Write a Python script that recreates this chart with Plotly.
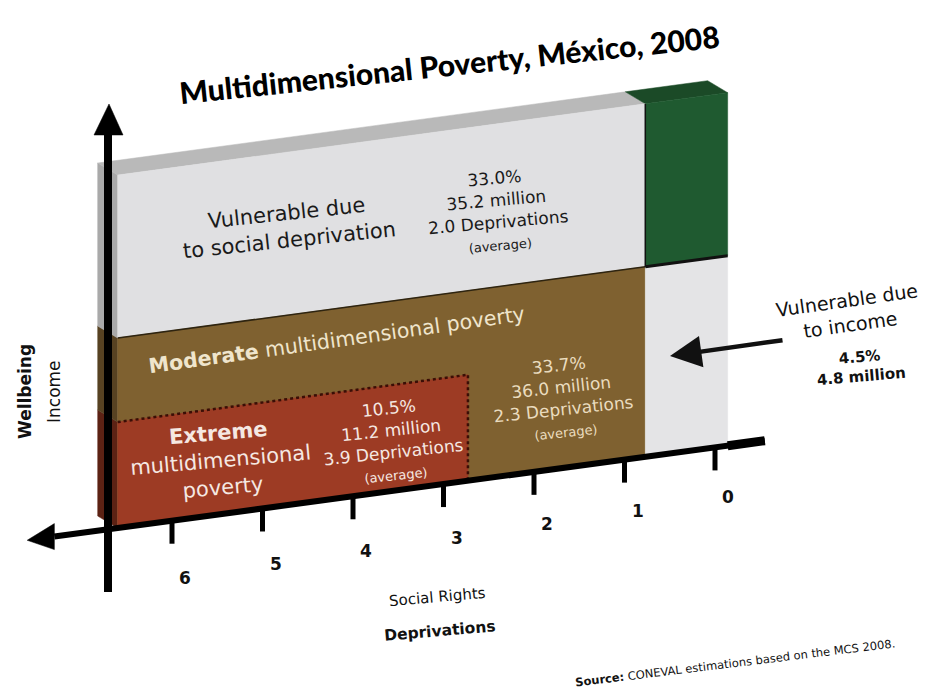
import plotly.graph_objects as go

# ---------------- data ----------------
deprivation_ticks = [6, 5, 4, 3, 2, 1, 0]
tick_labels = ["6", "5", "4", "3", "2", "1", "0"]

# column limits on the deprivation axis
dep_left = 6.6          # left edge of the blocks
dep_extreme_edge = 2.73 # right edge of the extreme-poverty block
dep_poverty_edge = 0.77 # right edge of the poverty / social-vulnerability blocks
dep_right = -0.14       # right edge of the non-deprived column

# income levels (relative height on the wellbeing axis)
inc_extreme_line = 106  # minimum wellbeing line
inc_wellbeing_line = 190
inc_top = 353

group_names = ["Vulnerable due to social deprivation", "Moderate multidimensional poverty",
               "Extreme multidimensional poverty", "Vulnerable due to income"]
group_pct = [33.0, 33.7, 10.5, 4.5]
group_millions = [35.2, 36.0, 11.2, 4.8]
group_avg_dep = [2.0, 2.3, 3.9, None]

# ---------------- oblique projection ----------------
def P(d, h):
    x = 715 - 90.5 * d
    y = 528 - 0.135 * (x - 118) - h
    return x, y

DEPTH = (-20, -12)

fig = go.Figure()

def poly(pts, color):
    xs = [p[0] for p in pts] + [pts[0][0]]
    ys = [p[1] for p in pts] + [pts[0][1]]
    fig.add_trace(go.Scatter(x=xs, y=ys, mode="lines", fill="toself", fillcolor=color,
                             line=dict(color=color, width=0.5), hoverinfo="skip",
                             showlegend=False))

def line(pts, color, width, dash="solid"):
    fig.add_trace(go.Scatter(x=[p[0] for p in pts], y=[p[1] for p in pts], mode="lines",
                             line=dict(color=color, width=width, dash=dash),
                             hoverinfo="skip", showlegend=False))

def back(p):
    return (p[0] + DEPTH[0], p[1] + DEPTH[1])

def rect(d0, d1, h0, h1, color):
    poly([P(d0, h0), P(d1, h0), P(d1, h1), P(d0, h1)], color)

# left side faces
for h0, h1, c in [(0, inc_extreme_line, "#5c2214"),
                  (inc_extreme_line, inc_wellbeing_line, "#574222"),
                  (inc_wellbeing_line, inc_top, "#a9a9a9")]:
    a, b = P(dep_left, h0), P(dep_left, h1)
    poly([a, b, back(b), back(a)], c)

# top faces
a, b = P(dep_left, inc_top), P(dep_poverty_edge, inc_top)
poly([a, b, back(b), back(a)], "#b9b9b9")
a, b = P(dep_poverty_edge, inc_top), P(dep_right, inc_top)
poly([a, b, back(b), back(a)], "#1b4a27")

# front faces
rect(dep_left, dep_poverty_edge, inc_wellbeing_line, inc_top, "#e0e0e2")
rect(dep_left, dep_poverty_edge, 0, inc_wellbeing_line, "#7f6130")
rect(dep_left, dep_extreme_edge, 0, inc_extreme_line, "#9d3b24")
rect(dep_poverty_edge, dep_right, 0, inc_wellbeing_line, "#e4e4e6")
rect(dep_poverty_edge, dep_right, inc_wellbeing_line, inc_top, "#1f5a30")

# borders
line([P(dep_left, inc_wellbeing_line), P(dep_poverty_edge, inc_wellbeing_line)], "#2e2410", 1.5)
line([P(dep_poverty_edge, inc_wellbeing_line), P(dep_right, inc_wellbeing_line)], "#111111", 3)
line([P(dep_poverty_edge, inc_wellbeing_line), P(dep_poverty_edge, inc_top)], "#111111", 1.5)
line([P(dep_left, inc_extreme_line), P(dep_extreme_edge, inc_extreme_line),
      P(dep_extreme_edge, 0)], "#3a0e06", 2.5, "dot")

# horizontal (deprivation) axis with arrow to the left
ax_start = P(-0.55, 0)
ax_tip = P(7.6, 0)
ax_neck = P(7.3, 0)
line([ax_start, ax_neck], "#000000", 6)
line([P(-0.55, 0), P(-0.14, 0)], "#000000", 9)
poly([ax_tip, (ax_neck[0], ax_neck[1] - 13), (ax_neck[0], ax_neck[1] + 13)], "#000000")

# ticks
for d in deprivation_ticks:
    x, y = P(d, 0)
    line([(x, y), (x, y + 23)], "#000000", 5)

# vertical (wellbeing) axis with arrow upward
vx = 108
line([(vx, 592), (vx, 130)], "#000000", 8)
poly([(vx + 1, 104), (vx - 14, 135), (vx + 15, 135)], "#000000")

# ---------------- texts ----------------
F = "DejaVu Sans"
ann = []

def txt(x, y, s, size, color="#111111", angle=0, family=F, weight=None):
    font = dict(family=family, size=size, color=color)
    if weight:
        font["weight"] = weight
    ann.append(dict(x=x, y=y, xref="x", yref="y", text=s, showarrow=False,
                    xanchor="center", yanchor="middle", textangle=angle, font=font))

def stats(i, small=13):
    s = f"{group_pct[i]:.1f}%<br>{group_millions[i]:.1f} million"
    if group_avg_dep[i] is not None:
        s += f"<br>{group_avg_dep[i]:.1f} Deprivations<br><span style='font-size:{small}px'>(average)</span>"
    return s

txt(449, 64, "Multidimensional Poverty, México, 2008", 30, "#000000", -6, "Lato", 900)

txt(288, 226, "Vulnerable due<br>to social deprivation", 21, "#1a1a1a", -6)
txt(497, 210, stats(0), 17, "#1a1a1a", -5)

txt(337, 340, "<b>Moderate</b> multidimensional poverty", 20.5, "#efe5cc", -8)
txt(562, 397, stats(1), 17, "#eadcbf", -6)

txt(220, 460, "<b>Extreme</b><br>multidimensional<br>poverty", 21, "#f5e8e2", -5)
txt(392, 440, stats(2), 17, "#f5e8e2", -6)

txt(848, 312, "Vulnerable due<br>to income", 19, "#111111", -8)
txt(860, 367, f"<b>{group_pct[3]:.1f}%<br>{group_millions[3]:.1f} million</b>", 15, "#111111", -5)
ann.append(dict(x=670, y=356, xref="x", yref="y", ax=784, ay=340, axref="x", ayref="y",
                text="", showarrow=True, arrowhead=2, arrowsize=1.4, arrowwidth=4.5,
                arrowcolor="#111111"))

txt(25, 392, "<b>Wellbeing</b>", 17, "#111111", -90)
txt(54, 392, "Income", 17, "#111111", -90)

for d, lab in zip(deprivation_ticks, tick_labels):
    x, y = P(d, 0)
    txt(x + 13, y + 50 + 1.2 * d, f"<b>{lab}</b>", 17, "#111111")

txt(437, 597, "Social Rights", 15, "#111111", -5)
txt(440, 631, "<b>Deprivations</b>", 15.5, "#111111", -5)
txt(735, 663, "<b>Source:</b> CONEVAL estimations based on the MCS 2008.", 11.5, "#111111", -7)

fig.update_layout(
    width=932, height=689,
    margin=dict(l=0, r=0, t=0, b=0),
    paper_bgcolor="white", plot_bgcolor="white",
    xaxis=dict(range=[0, 932], visible=False, fixedrange=True),
    yaxis=dict(range=[689, 0], visible=False, fixedrange=True),
    annotations=ann,
    showlegend=False,
)

fig.write_html("out.html")
